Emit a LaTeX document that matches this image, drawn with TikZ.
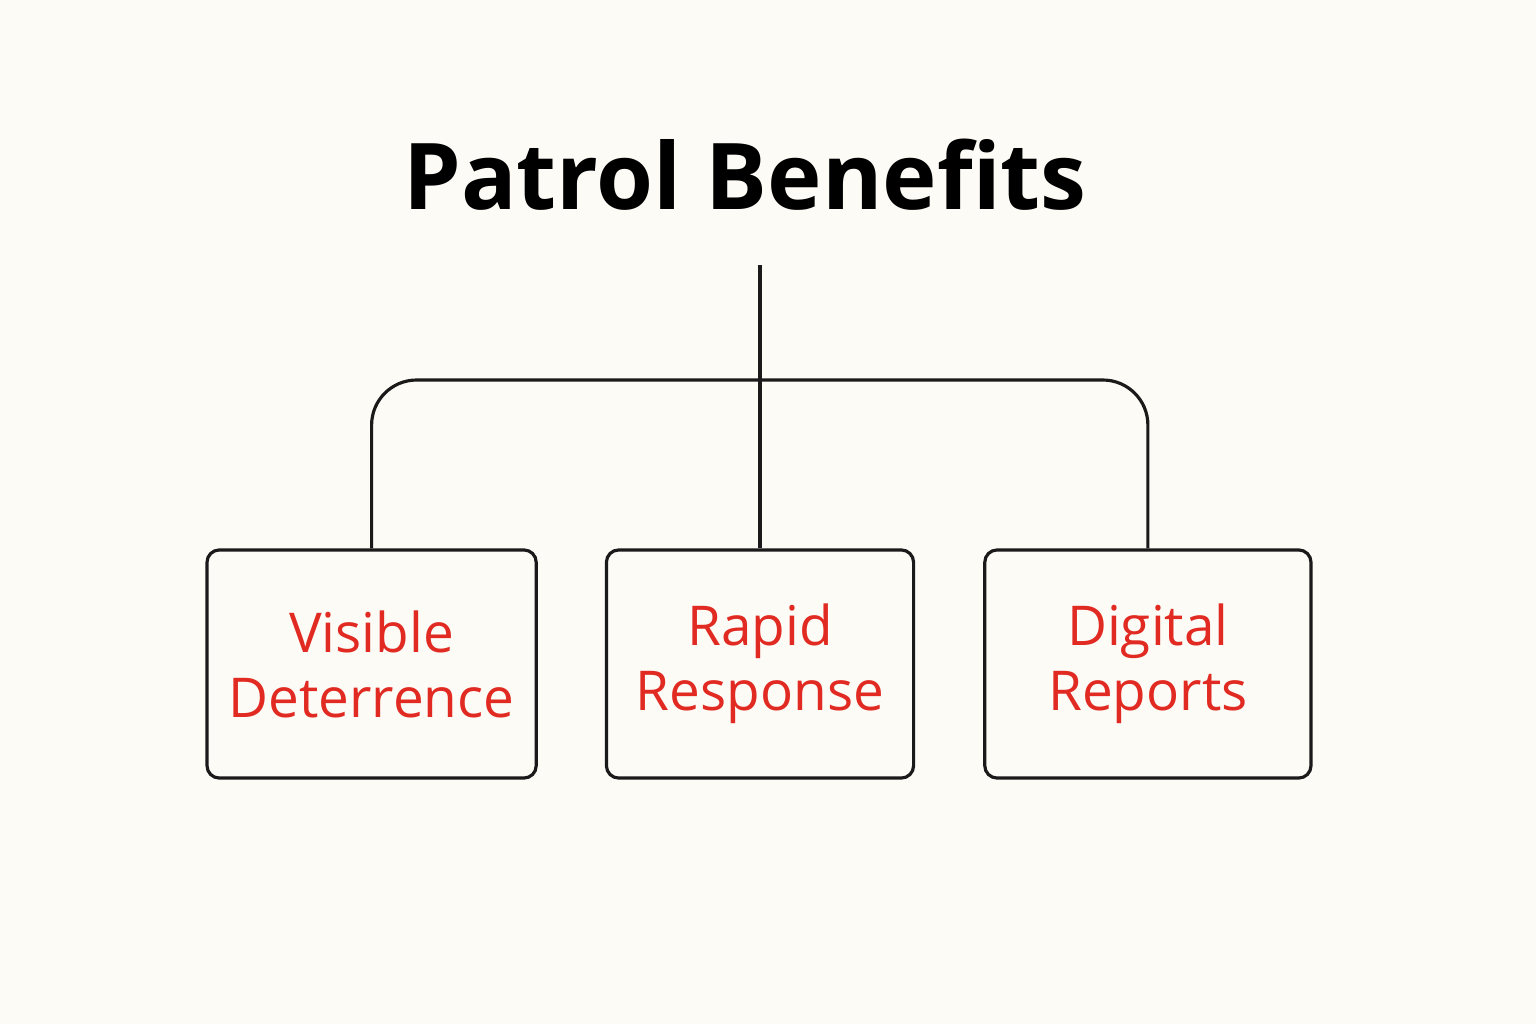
\documentclass[tikz,border=0pt]{standalone}
\usepackage{fontspec}
\setmainfont{Open Sans}
\usetikzlibrary{positioning}
\definecolor{paper}{HTML}{FDFBF6}
\definecolor{ink}{HTML}{1A1A1A}
\definecolor{benefitred}{HTML}{E02A22}
\tikzstyle{benefit} = [rectangle, rounded corners=3.5pt, inner sep=0pt, minimum width=3.29cm, minimum height=2.28cm, align=center, draw=ink, line width=0.9pt, text=benefitred, font=\fontsize{15.6}{18.5}\selectfont]
\tikzstyle{link} = [draw=ink, line width=0.9pt]

\begin{document}
\begin{tikzpicture}[x=0.01cm, y=-0.01cm]

        % Canvas
        \fill[paper] (0,0) rectangle (1536,1024);

        % Title
        \node (title) at (745,175) {\fontsize{26.2}{30}\selectfont\bfseries Patrol Benefits};

        % Benefit boxes
        \node (rapid) [benefit, minimum width=3.07cm] at (760,664) {Rapid\\Response};
        \node (visible) [benefit, left=0.67cm of rapid] {Visible\\Deterrence};
        \node (digital) [benefit, minimum width=3.26cm, right=0.68cm of rapid] {Digital\\Reports};

        % Connector points
        \coordinate (stem) at (760,265);
        \coordinate (hub) at (760,380);

        % Connectors
        \draw [link] (stem) -- (rapid.north);
        \draw [link, rounded corners=0.45cm] (visible.north) |- (hub) -| (digital.north);

\end{tikzpicture}
\end{document}
